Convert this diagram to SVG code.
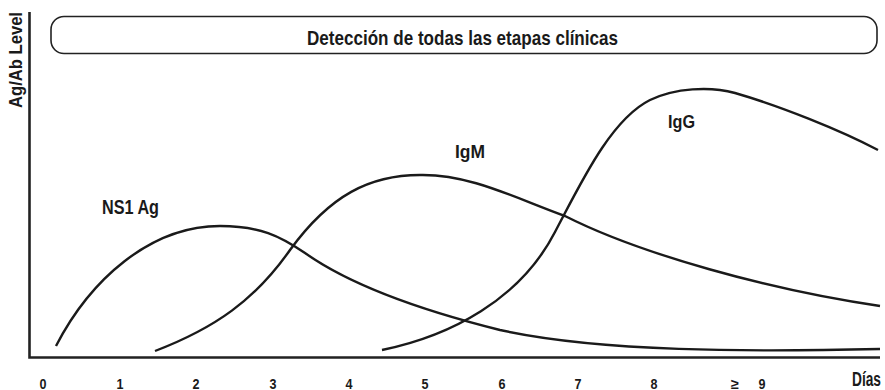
<svg xmlns="http://www.w3.org/2000/svg" width="885" height="390" viewBox="0 0 885 390">
<style>
text{font-family:"Liberation Sans",Arial,sans-serif;font-weight:bold;fill:#1a1a1a}
.axis{stroke:#222;stroke-width:2.6;fill:none}
.curve{stroke:#1a1a1a;stroke-width:2.4;fill:none;stroke-linecap:butt}
.tick{font-size:14.5px;text-anchor:middle}
</style>
<rect width="885" height="390" fill="#fff"/>
<g id="axes">
<path class="axis" d="M29.5,12 V357.5 H880"/>
<text font-size="18" transform="translate(22,60) rotate(-90)" text-anchor="middle" textLength="96" lengthAdjust="spacingAndGlyphs">Ag/Ab Level</text>
</g>
<g id="banner">
<rect x="51" y="16.5" width="826" height="37" rx="13" ry="13" fill="#fff" stroke="#222" stroke-width="1.6"/>
<text x="307" y="44.5" font-size="20.5" textLength="311" lengthAdjust="spacingAndGlyphs">Detección de todas las etapas clínicas</text>
</g>
<g id="curves">
<path id="ns1" class="curve" d="M56,346 C90,280 150,226 220,226 C260,226 280,236 305,253 C350,285 420,310 500,330 C600,352 750,352 880,349"/>
<path id="igm" class="curve" d="M155,351 C215,328 255,300 290,250 C330,195 370,175 420,175 C470,174 515,198 565,216 C640,254 770,290 880,306"/>
<path id="igg" class="curve" d="M382,350 C450,336 520,300 555,232 C580,185 610,120 650,100 C675,88 710,86 735,93 C780,106 840,130 878,150"/>
</g>
<g id="labels">
<text x="102" y="214" font-size="21" textLength="57" lengthAdjust="spacingAndGlyphs">NS1 Ag</text>
<text x="455" y="158" font-size="19" textLength="30" lengthAdjust="spacingAndGlyphs">IgM</text>
<text x="668" y="127.5" font-size="18.5" textLength="27" lengthAdjust="spacingAndGlyphs">IgG</text>
</g>
<g id="ticks">
<text class="tick" x="43" y="388.5" textLength="7" lengthAdjust="spacingAndGlyphs">0</text>
<text class="tick" x="120" y="388.5" textLength="7" lengthAdjust="spacingAndGlyphs">1</text>
<text class="tick" x="196" y="388.5" textLength="7" lengthAdjust="spacingAndGlyphs">2</text>
<text class="tick" x="273" y="388.5" textLength="7" lengthAdjust="spacingAndGlyphs">3</text>
<text class="tick" x="349" y="388.5" textLength="7" lengthAdjust="spacingAndGlyphs">4</text>
<text class="tick" x="425" y="388.5" textLength="7" lengthAdjust="spacingAndGlyphs">5</text>
<text class="tick" x="502" y="388.5" textLength="7" lengthAdjust="spacingAndGlyphs">6</text>
<text class="tick" x="578" y="388.5" textLength="7" lengthAdjust="spacingAndGlyphs">7</text>
<text class="tick" x="654" y="388.5" textLength="7" lengthAdjust="spacingAndGlyphs">8</text>
<text class="tick" x="735" y="388.5" font-size="12">≥</text>
<text class="tick" x="762" y="388.5" textLength="7" lengthAdjust="spacingAndGlyphs">9</text>
<text x="881" y="386" font-size="20" text-anchor="end" textLength="29" lengthAdjust="spacingAndGlyphs">Días</text>
</g>
</svg>
